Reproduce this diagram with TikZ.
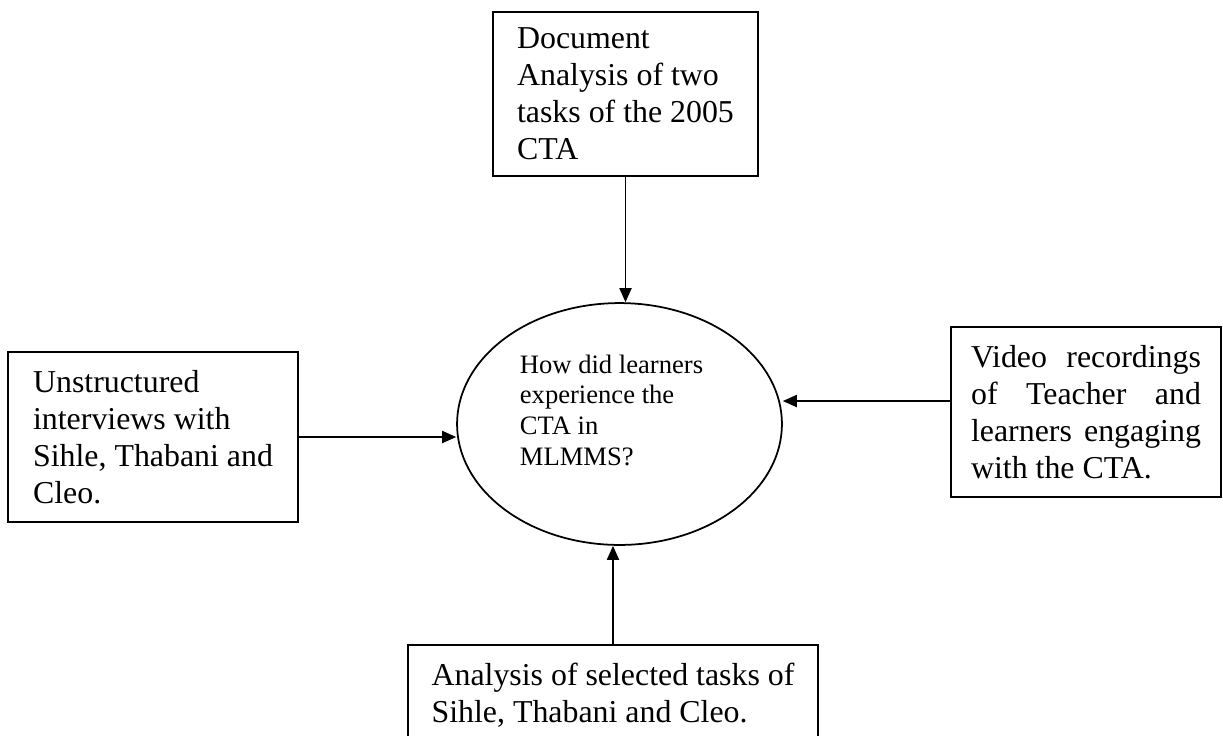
\documentclass[tikz,border=0pt]{standalone}
\usepackage{fontspec}
\setmainfont{Liberation Serif}
\usepackage{tikz}
\usetikzlibrary{positioning}
\usetikzlibrary{shapes.geometric, arrows.meta}

\tikzset{
    sourcebox/.style={draw, rectangle, align=left, inner sep=0pt, line width=0.7pt, font=\fontsize{12.7}{14.7}\selectfont},
    question/.style={draw, ellipse, align=left, inner sep=0pt, line width=0.7pt, minimum width=4.55cm, minimum height=3.388cm, font=\fontsize{10.6}{12.3}\selectfont},
    link/.style={->, line width=0.7pt, >={Triangle[length=5.6pt, width=4.8pt]}}
}

\begin{document}
\begin{tikzpicture}[x=0.014cm, y=-0.014cm]
    \useasboundingbox (0,0) rectangle (1223,735);

    % Pregunta central
    \node (quest) [question] at (619.5,424)
    {How did learners\rule{0.224cm}{0pt}\\experience the\\CTA in\\MLMMS?\rule[-0.39cm]{0pt}{0.39cm}};

    % Analisis de documentos
    \node (docs) [sourcebox, minimum width=3.71cm, minimum height=2.296cm] at (625.5,94)
    {Document\\Analysis of two\\tasks of the 2005\\CTA};

    % Entrevistas
    \node (talks) [sourcebox, minimum width=4.06cm, minimum height=2.38cm] at (153,437)
    {Unstructured\\interviews with\\Sihle, Thabani and\\Cleo.};

    % Videos
    \node (video) [sourcebox, align=justify, text width=3.22cm, minimum width=3.78cm, minimum height=2.38cm] at (1086,412)
    {Video recordings\linebreak of Teacher and\linebreak learners engaging\linebreak with the CTA.};

    % Tareas de los alumnos
    \node (tasks) [sourcebox, minimum width=5.74cm, minimum height=1.4cm] at (613,695)
    {Analysis of selected tasks of\\Sihle, Thabani and Cleo.};

    % Flechas hacia la pregunta
    \coordinate (videoin) at ([yshift=0.154cm]video.west);
    \draw[link] (docs.south) -- (docs.south |- quest.north);
    \draw[link] (talks.east) -- (talks.east -| quest.west);
    \draw[link] (videoin) -- (videoin -| quest.east);
    \draw[link] (tasks.north) -- (tasks.north |- quest.south);
\end{tikzpicture}
\end{document}
